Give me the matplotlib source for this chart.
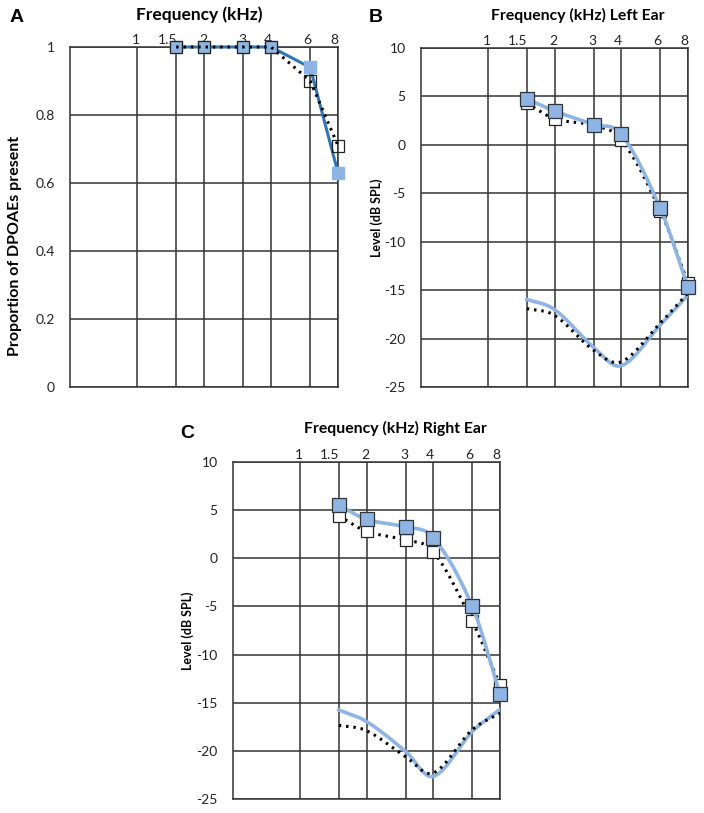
import numpy as np
import matplotlib
matplotlib.use("Agg")
import matplotlib.pyplot as plt
import matplotlib.transforms as mtransforms
from matplotlib.ticker import FixedLocator, NullLocator

plt.rcParams['font.family'] = ['Lato', 'DejaVu Sans']

# frequency grid (kHz)
freq_grid = [1, 1.5, 2, 3, 4, 6, 8]
freq_labels = ["1", "1.5", "2", "3", "4", "6", "8"]
freqs = [1.5, 2, 3, 4, 6, 8]

# panel A: proportion of DPOAEs present
prop_filled = [1.0, 1.0, 1.0, 1.0, 0.94, 0.63]
prop_open = [1.0, 1.0, 1.0, 1.0, 0.90, 0.71]

# panel B: left ear level (dB SPL)
left_filled = [4.75, 3.5, 2.1, 1.1, -6.55, -14.7]
left_open = [4.3, 2.7, 2.0, 0.55, -6.8, -14.3]
left_noise_filled = [-15.95, -17.0, -20.9, -22.8, -18.6, -15.5]
left_noise_open = [-16.9, -17.6, -21.2, -22.4, -18.4, -15.3]

# panel C: right ear level (dB SPL)
right_filled = [5.5, 4.05, 3.25, 2.15, -5.0, -14.1]
right_open = [4.4, 2.8, 1.9, 0.7, -6.55, -13.2]
right_noise_filled = [-15.75, -16.95, -20.05, -22.65, -18.0, -15.7]
right_noise_open = [-17.35, -17.9, -20.6, -22.3, -17.8, -16.1]

LIGHT_BLUE = "#8db4e2"
DARK_BLUE = "#2e75b6"
GRID = "#333333"
DOT = (0, (0.8, 1.6))
freq_lbl_off = [-1, -9, -1, -1, -3, -3, -4]


def smooth(x, y, n=40):
    # Hermite spline through the points, in log2 frequency space (like Excel smoothing)
    t = np.log2(np.asarray(x, float))
    y = np.asarray(y, float)
    m = np.zeros_like(y)
    m[0] = (y[1] - y[0]) / (t[1] - t[0])
    m[-1] = (y[-1] - y[-2]) / (t[-1] - t[-2])
    for i in range(1, len(y) - 1):
        m[i] = (y[i + 1] - y[i - 1]) / (t[i + 1] - t[i - 1])
    ts, ys = [], []
    for i in range(len(y) - 1):
        h = t[i + 1] - t[i]
        s = np.linspace(0, 1, n)
        h00 = 2 * s**3 - 3 * s**2 + 1
        h10 = s**3 - 2 * s**2 + s
        h01 = -2 * s**3 + 3 * s**2
        h11 = s**3 - s**2
        ts.append(t[i] + s * h)
        ys.append(h00 * y[i] + h10 * h * m[i] + h01 * y[i + 1] + h11 * h * m[i + 1])
    return 2 ** np.concatenate(ts), np.concatenate(ys)


def setup(ax, fig, ylim, yticks, ylabels):
    ax.set_xscale('log')
    ax.set_xlim(0.5, 8)
    ax.xaxis.set_major_locator(FixedLocator(freq_grid))
    ax.xaxis.set_minor_locator(NullLocator())
    ax.set_xticklabels(freq_labels)
    ax.xaxis.tick_top()
    ax.set_ylim(*ylim)
    ax.set_yticks(yticks)
    ax.set_yticklabels(ylabels)
    ax.tick_params(length=0, labelsize=10, colors='#222222')
    ax.tick_params(axis='x', pad=1)
    ax.tick_params(axis='y', pad=11)
    ax.grid(True, color=GRID, lw=1.1)
    for s in ax.spines.values():
        s.set_color(GRID)
        s.set_linewidth(1.1)
    for lab, f in zip(ax.get_xticklabels(), freq_lbl_off):
        lab.set_transform(lab.get_transform() + mtransforms.ScaledTranslation(f / 100, 0, fig.dpi_scale_trans))


fig = plt.figure(figsize=(7.04, 8.13), dpi=100)

# ---- panel A
axA = fig.add_axes([70 / 704, 1 - 387 / 813, 268 / 704, 340 / 813])
setup(axA, fig, (0, 1), [0, 0.2, 0.4, 0.6, 0.8, 1.0], ["0", "0.2", "0.4", "0.6", "0.8", "1"])
axA.plot(freqs, prop_filled, color=DARK_BLUE, lw=2.2, marker='s', ms=9,
         mfc=LIGHT_BLUE, mec=LIGHT_BLUE, zorder=3, clip_on=False)
axA.plot(freqs, prop_open, color='black', lw=2.2, ls=DOT, marker='s', ms=9,
         mfc='none', mec='#222222', mew=0.9, zorder=4, clip_on=False)
fig.text(15 / 704, 1 - 246 / 813, "Proportion of DPOAEs present", rotation=90,
         ha='center', va='center', fontsize=11.5, fontweight='bold')
fig.text(199 / 704, 1 - 15 / 813, "Frequency (kHz)", ha='center', va='center',
         fontsize=12.5, fontweight='bold')
fig.text(10 / 704, 1 - 17 / 813, "A", ha='left', va='center', fontsize=14,
         fontweight='bold', family='Liberation Sans')


# ---- panel B & C
def level_panel(rect, filled, opened, nf, no, title, title_x, title_y, letter, lx, ly, ylab_x):
    ax = fig.add_axes(rect)
    setup(ax, fig, (-25, 10), list(range(-25, 11, 5)), [str(v) for v in range(-25, 11, 5)])
    xs, ys = smooth(freqs, nf)
    ax.plot(xs, ys, color=LIGHT_BLUE, lw=2.6, zorder=3)
    xs, ys = smooth(freqs, no)
    ax.plot(xs, ys, color='black', lw=2.2, ls=DOT, zorder=3)
    xs, ys = smooth(freqs, opened)
    ax.plot(xs, ys, color='black', lw=2.2, ls=DOT, zorder=4)
    ax.plot(freqs, opened, ls='none', marker='s', ms=9, mfc='white', mec='#222222',
            mew=0.9, zorder=4, clip_on=False)
    xs, ys = smooth(freqs, filled)
    ax.plot(xs, ys, color=LIGHT_BLUE, lw=2.6, zorder=5)
    ax.plot(freqs, filled, ls='none', marker='s', ms=9.5, mfc=LIGHT_BLUE, mec='#333333',
            mew=0.9, zorder=6, clip_on=False)
    pos = ax.get_position()
    fig.text(ylab_x / 704, pos.y0 + pos.height / 2, "Level (dB SPL)", rotation=90,
             ha='center', va='center', fontsize=9, fontweight='bold')
    fig.text(title_x / 704, 1 - title_y / 813, title, ha='center', va='center',
             fontsize=11.3, fontweight='bold')
    fig.text(lx / 704, 1 - ly / 813, letter, ha='left', va='center', fontsize=14,
             fontweight='bold', family='Liberation Sans')
    return ax


level_panel([421 / 704, 1 - 387 / 813, 267 / 704, 339 / 813], left_filled, left_open,
            left_noise_filled, left_noise_open, "Frequency (kHz) Left Ear", 578, 15, "B", 369, 17, 377)
level_panel([233 / 704, 1 - 799 / 813, 267 / 704, 337 / 813], right_filled, right_open,
            right_noise_filled, right_noise_open, "Frequency (kHz) Right Ear", 395, 428, "C", 180, 433, 188)

fig.savefig("out.png", dpi=100)
